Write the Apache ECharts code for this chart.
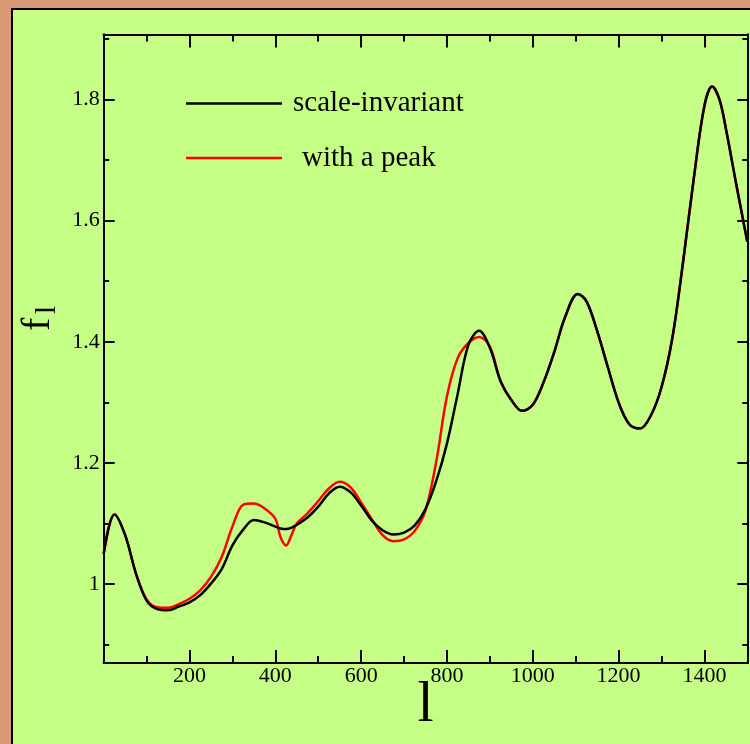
<!DOCTYPE html>
<html>
<head>
<meta charset="utf-8">
<script src="https://cdn.jsdelivr.net/npm/echarts@6/dist/echarts.min.js"></script>
<style>
  html, body { margin: 0; padding: 0; background: #d99b76; }
  #panel {
    position: absolute; left: 11px; top: 8px; width: 760px; height: 760px;
    background: #c5ff85; border-left: 2px solid #000; border-top: 2px solid #000;
  }
  #chart { position: absolute; left: 0; top: 0; width: 750px; height: 744px; }
</style>
</head>
<body>
<div id="panel"></div>
<div id="chart"></div>
<script>
// multipole l
const ell = [
  0, 25, 50, 75, 100, 125, 150, 175, 200, 225, 250, 275, 300, 325, 350, 375, 400,
  412, 425, 437,
  450, 475, 500, 525, 550, 575, 600, 625, 650, 675, 700, 725, 750, 775, 800, 825,
  850, 875, 900, 925, 950, 975, 1000, 1025, 1050, 1075, 1105, 1125, 1150, 1175,
  1200, 1225, 1250, 1275, 1300, 1325, 1350, 1375, 1400, 1418, 1435, 1450, 1475, 1500
];

// f_l for the scale-invariant spectrum
const fScaleInvariant = [
  1.050, 1.115, 1.081, 1.018, 0.973, 0.959, 0.957, 0.963, 0.970, 0.982, 1.001, 1.025, 1.064, 1.090, 1.106, 1.102, 1.095,
  1.092, 1.091, 1.093,
  1.098, 1.110, 1.128, 1.150, 1.161, 1.152, 1.130, 1.105, 1.089, 1.082, 1.085, 1.097, 1.124, 1.170, 1.232, 1.314,
  1.395, 1.418, 1.390, 1.335, 1.304, 1.286, 1.296, 1.333, 1.383, 1.440, 1.479, 1.467, 1.418, 1.358,
  1.300, 1.264, 1.257, 1.278, 1.325, 1.405, 1.530, 1.668, 1.789, 1.821, 1.800, 1.752, 1.657, 1.565
];

// f_l for the spectrum with a peak
const fWithPeak = [
  1.050, 1.115, 1.081, 1.018, 0.975, 0.962, 0.961, 0.967, 0.976, 0.990, 1.012, 1.045, 1.095, 1.131, 1.133, 1.125, 1.108,
  1.078, 1.064, 1.080,
  1.100, 1.117, 1.137, 1.158, 1.169, 1.160, 1.135, 1.107, 1.081, 1.071, 1.074, 1.088, 1.122, 1.202, 1.310, 1.373,
  1.398, 1.408, 1.392, 1.335, 1.304, 1.286, 1.296, 1.333, 1.383, 1.440, 1.479, 1.467, 1.418, 1.358,
  1.300, 1.264, 1.257, 1.278, 1.325, 1.405, 1.530, 1.668, 1.789, 1.821, 1.800, 1.752, 1.657, 1.565
];

const seriesNames = ['scale-invariant', 'with a peak'];

const xMajorTicks = [200, 400, 600, 800, 1000, 1200, 1400];
const xMinorTicks = [100, 300, 500, 700, 900, 1100, 1300, 1500];
const yMajorTicks = [1, 1.2, 1.4, 1.6, 1.8];
const yMinorTicks = [0.9, 1.1, 1.3, 1.5, 1.7, 1.9];

const X_MIN = 0, X_MAX = 1500;
const Y_MIN = 0.87, Y_MAX = 1.907;

const SERIF = 'Liberation Serif, Times New Roman, serif';
const INK = '#000';

function pairs(xs, ys) { return xs.map((x, i) => [x, ys[i]]); }

function axisDef(position, min, max, ticks, len, opts) {
  return Object.assign({
    type: 'value', position, min, max,
    axisLine: { show: true, onZero: false, lineStyle: { color: INK, width: 2 } },
    axisTick: { show: true, inside: true, length: len, customValues: ticks, lineStyle: { color: INK, width: 2 } },
    axisLabel: { show: false },
    splitLine: { show: false }
  }, opts || {});
}

const chart = echarts.init(document.getElementById('chart'), null, { renderer: 'canvas' });

chart.setOption({
  animation: false,
  backgroundColor: 'transparent',
  grid: {
    left: 103.7, right: 2.7, top: 34.5, bottom: 81,
    containLabel: false, outerBoundsMode: 'none'
  },
  xAxis: [
    axisDef('bottom', X_MIN, X_MAX, xMajorTicks, 13, {
      axisLabel: {
        show: true, customValues: xMajorTicks, margin: 2,
        fontFamily: SERIF, fontSize: 22, color: INK,
        formatter: v => String(v)
      },
      name: 'l', nameLocation: 'middle', nameGap: 14, nameMoveOverlap: false,
      nameTextStyle: { fontFamily: SERIF, fontSize: 58, color: INK }
    }),
    axisDef('bottom', X_MIN, X_MAX, xMinorTicks, 7),
    axisDef('top', X_MIN, X_MAX, xMajorTicks, 13),
    axisDef('top', X_MIN, X_MAX, xMinorTicks, 7)
  ],
  yAxis: [
    axisDef('left', Y_MIN, Y_MAX, yMajorTicks, 11, {
      axisLabel: {
        show: true, customValues: yMajorTicks, margin: 4,
        fontFamily: SERIF, fontSize: 22, color: INK,
        formatter: v => String(v)
      }
    }),
    axisDef('left', Y_MIN, Y_MAX, yMinorTicks, 5.5),
    axisDef('right', Y_MIN, Y_MAX, yMajorTicks, 10),
    axisDef('right', Y_MIN, Y_MAX, yMinorTicks, 5)
  ],
  legend: [
    {
      data: [{ name: seriesNames[0], textStyle: { padding: [0, 0, 16, 6] } }],
      left: 186, top: 81, padding: 0,
      orient: 'vertical', icon: 'rect', itemWidth: 96, itemHeight: 2.5,
      selectedMode: false,
      textStyle: { fontFamily: SERIF, fontSize: 29, color: INK, lineHeight: 29 }
    },
    {
      data: [{ name: seriesNames[1], textStyle: { padding: [0, 0, 7, 15] } }],
      left: 186, top: 140, padding: 0,
      orient: 'vertical', icon: 'rect', itemWidth: 96, itemHeight: 2.5,
      selectedMode: false,
      textStyle: { fontFamily: SERIF, fontSize: 29, color: INK, lineHeight: 29 }
    }
  ],
  graphic: [
    {
      type: 'text', x: 38, y: 331, rotation: Math.PI / 2, silent: true,
      style: { text: 'f', font: '40px ' + SERIF, fill: INK, align: 'left', verticalAlign: 'middle' }
    },
    {
      type: 'text', x: 47, y: 314, rotation: Math.PI / 2, silent: true,
      style: { text: 'l', font: '29px ' + SERIF, fill: INK, align: 'left', verticalAlign: 'middle' }
    }
  ],
  series: [
    {
      name: seriesNames[1], type: 'line', xAxisIndex: 0, yAxisIndex: 0,
      data: pairs(ell, fWithPeak), smooth: 0.35, showSymbol: false, symbol: 'none',
      color: '#ff0000', lineStyle: { color: '#ff0000', width: 2.5 }, z: 2
    },
    {
      name: seriesNames[0], type: 'line', xAxisIndex: 0, yAxisIndex: 0,
      data: pairs(ell, fScaleInvariant), smooth: 0.35, showSymbol: false, symbol: 'none',
      color: '#000000', lineStyle: { color: '#000000', width: 2.5 }, z: 3
    }
  ]
});
</script>
</body>
</html>
